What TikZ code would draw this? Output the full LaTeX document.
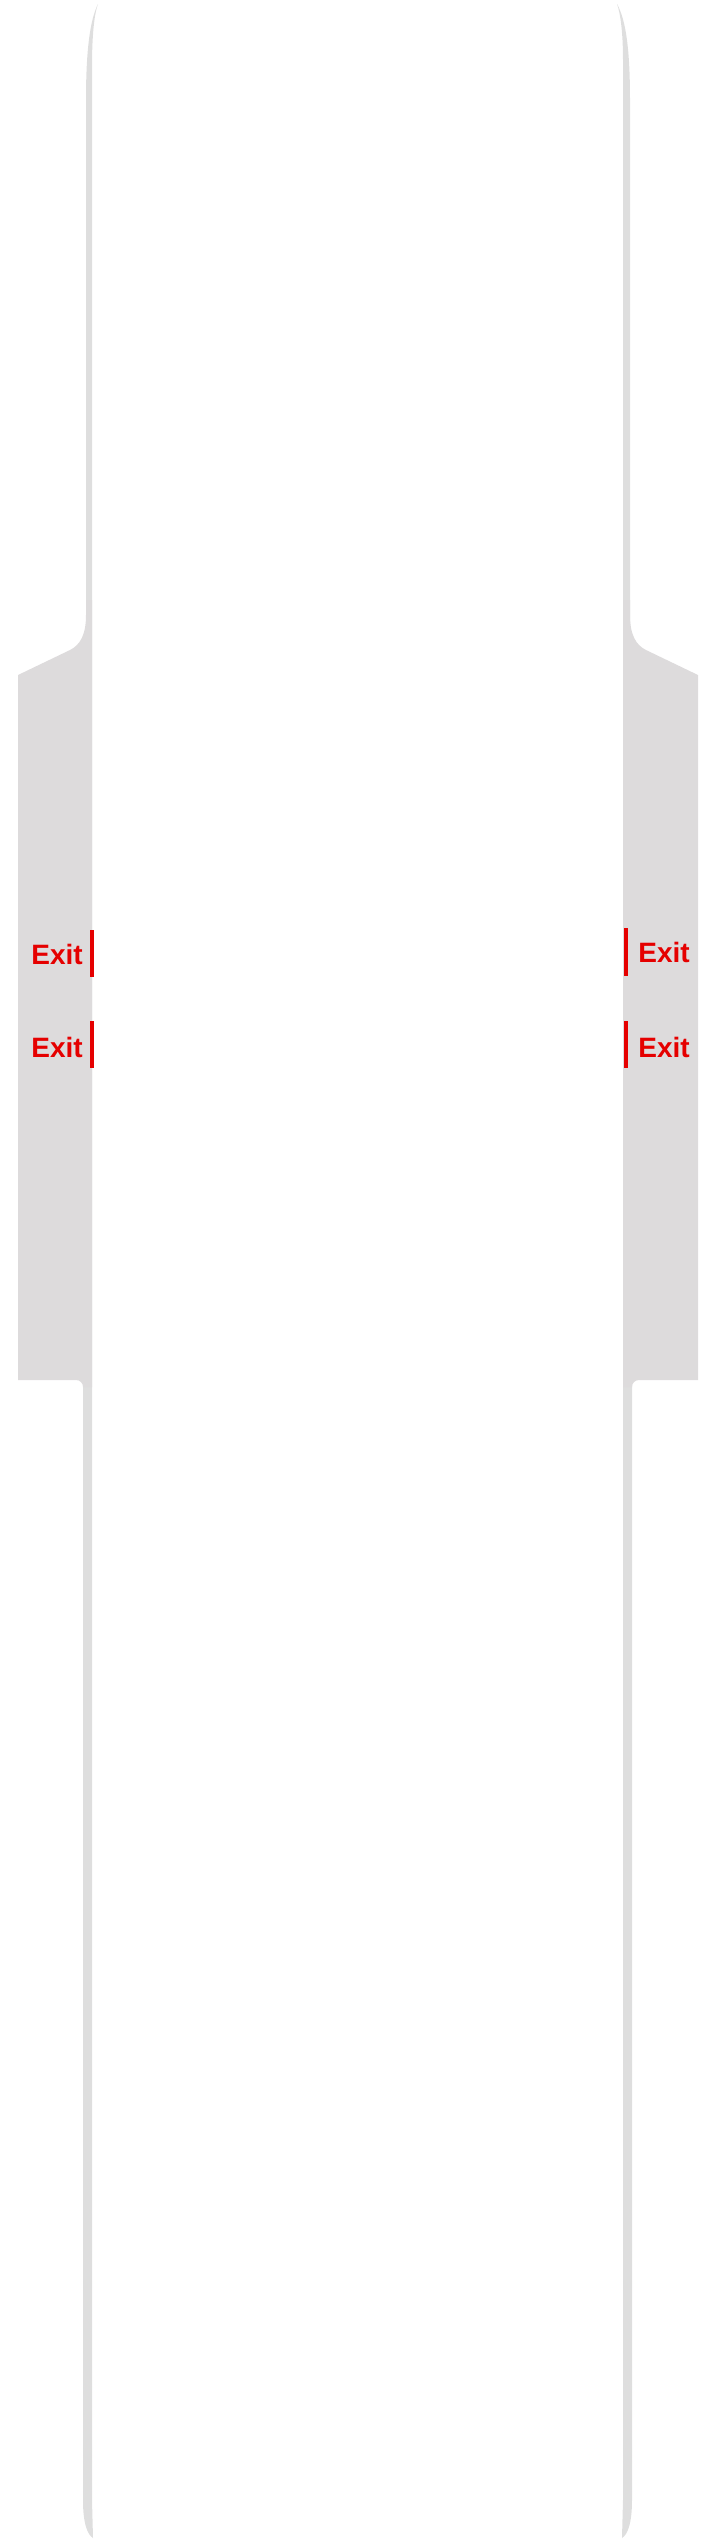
\documentclass[tikz,border=0pt]{standalone}
\usepackage{fontspec}
\setmainfont{Liberation Sans}
\definecolor{wallgray}{HTML}{DEDEDE}
\definecolor{winggray}{HTML}{DDDBDC}
\definecolor{exitred}{HTML}{E50000}
\tikzset{
  exit/.style={text=exitred, inner sep=0pt, font=\fontsize{14}{16}\selectfont\bfseries},
  exitbar/.style={draw=exitred, line width=2pt, line cap=butt}
}
\begin{document}
\begin{tikzpicture}[x=0.5pt, y=-0.5pt, line join=round, line cap=round]
	\def \yw{675}
	\def \yb{1380}
	\useasboundingbox (0,0) rectangle (720,2545);
	% --- walls
	\fill[wallgray] (98,4) .. controls (90,20) and (86,50) .. (86,100) -- (86,1000) -- (83,1000)
		-- (83,2500) .. controls (83,2525) and (88,2535) .. (93,2538)
		-- (92,2500) -- (92,67) .. controls (92,30) and (95,12) .. (98,4) -- cycle;
	\fill[wallgray] (617,4) .. controls (626,20) and (630,50) .. (630,100) -- (630,1000) -- (632,1000)
		-- (632,2500) .. controls (632,2525) and (627,2535) .. (622,2538)
		-- (623,2500) -- (623,60) .. controls (623,30) and (620,12) .. (617,4) -- cycle;
	% --- wings
	\fill[winggray] (92,600) -- (86,600) -- (86,615) .. controls (86,635) and (80,645) .. (70,650)
		-- (18,\yw) -- (18,\yb) -- (76,\yb) .. controls (80,\yb) and (83,\yb+3) .. (83,\yb+7)
		-- (92,\yb+7) -- cycle;
	\fill[winggray] (623,600) -- (630,600) -- (630,615) .. controls (630,635) and (636,645) .. (646,650)
		-- (698,\yw) -- (698,\yb) -- (639,\yb) .. controls (635,\yb) and (632,\yb+3) .. (632,\yb+7)
		-- (623,\yb+7) -- cycle;
	% --- exits
	\node[exit, anchor=base west] (exitL1) at (31,964) {Exit};
	\node[exit, anchor=base west] (exitL2) at (31,1057) {Exit};
	\node[exit, anchor=base west] (exitR1) at (638,962) {Exit};
	\node[exit, anchor=base west] (exitR2) at (638,1057) {Exit};
	\draw[exitbar] (92,930) -- (92,977);
	\draw[exitbar] (92,1021) -- (92,1068);
	\draw[exitbar] (625.5,928) -- (625.5,976);
	\draw[exitbar] (625.5,1021) -- (625.5,1068);
\end{tikzpicture}
\end{document}
